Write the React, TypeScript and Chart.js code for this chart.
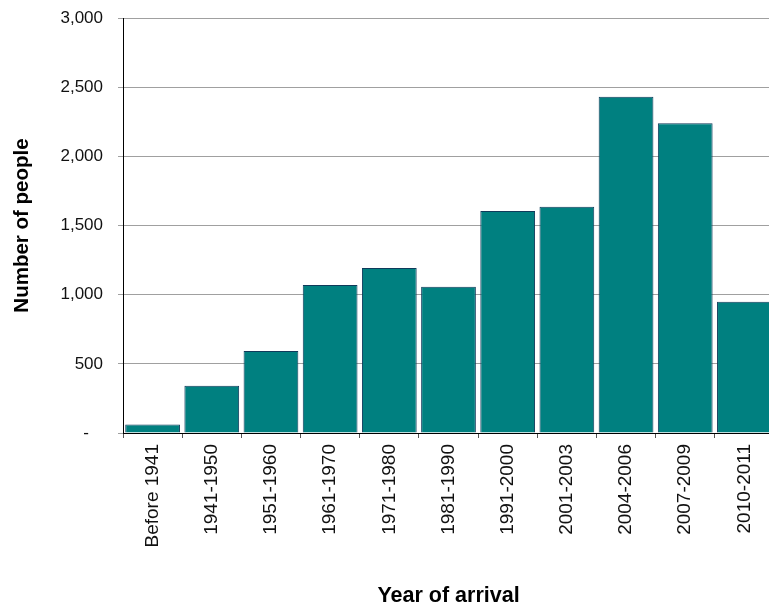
import React, { useEffect, useRef } from "react";
import { Chart, registerables } from "chart.js";

Chart.register(...registerables);

const categories = [
  "Before 1941",
  "1941-1950",
  "1951-1960",
  "1961-1970",
  "1971-1980",
  "1981-1990",
  "1991-2000",
  "2001-2003",
  "2004-2006",
  "2007-2009",
  "2010-2011",
];
const people = [62, 342, 592, 1070, 1193, 1057, 1605, 1636, 2431, 2239, 949];
const yTicks = [0, 500, 1000, 1500, 2000, 2500, 3000];

const FONT = "'Liberation Sans', Arial, sans-serif";

export default function App() {
  const ref = useRef<HTMLCanvasElement | null>(null);
  useEffect(() => {
    if (!ref.current) return;
    const chart = new Chart(ref.current, {
      type: "bar",
      data: {
        labels: categories,
        datasets: [
          {
            data: people,
            backgroundColor: "#008080",
            borderColor: "#0f3a5a",
            borderWidth: 1,
            categoryPercentage: 1,
            barPercentage: 0.925,
          },
        ],
      },
      options: {
        responsive: false,
        animation: false,
        layout: { padding: { top: 18, right: 16, bottom: 0, left: 0 } },
        plugins: { legend: { display: false }, tooltip: { enabled: false } },
        scales: {
          x: {
            grid: {
              display: true,
              drawOnChartArea: false,
              drawTicks: true,
              tickLength: 5,
              tickColor: "#555",
              offset: true,
            },
            border: { display: true, color: "#000", width: 1 },
            ticks: {
              minRotation: 90,
              maxRotation: 90,
              autoSkip: false,
              padding: 6,
              color: "#111",
              font: { family: FONT, size: 19 },
            },
            title: {
              display: true,
              text: "Year of arrival",
              color: "#000",
              font: { family: FONT, size: 21.5, weight: "bold", lineHeight: 1.1 },
              padding: { top: 0, bottom: 0 },
            },
            afterFit: (s: any) => {
              s.height = 175;
              s.paddingLeft = 0;
              s.paddingRight = 0;
            },
          },
          y: {
            min: 0,
            max: 3000,
            afterBuildTicks: (s: any) => {
              s.ticks = yTicks.map((v) => ({ value: v }));
            },
            grid: {
              color: "#a0a0a0",
              lineWidth: 1,
              drawTicks: true,
              tickLength: 5,
              tickColor: "#a0a0a0",
            },
            border: { display: true, color: "#000", width: 1 },
            ticks: {
              padding: 15,
              color: "#111",
              font: { family: FONT, size: 17 },
              callback: (v: any) =>
                Number(v) === 0 ? "-   " : Number(v).toLocaleString("en-US"),
            },
            title: {
              display: true,
              text: "Number of people",
              color: "#000",
              font: { family: FONT, size: 20.5, weight: "bold" },
              padding: { top: 10, bottom: 0 },
            },
            afterFit: (s: any) => {
              s.width = 123;
              s.paddingTop = 0;
              s.paddingBottom = 0;
            },
          },
        },
      },
    });
    return () => chart.destroy();
  }, []);
  return (
    <div
      style={{
        position: "fixed",
        left: 0,
        top: 0,
        width: 769,
        height: 608,
        overflow: "hidden",
        background: "#fff",
      }}
    >
      <canvas ref={ref} width={790} height={608} style={{ display: "block" }} />
    </div>
  );
}
